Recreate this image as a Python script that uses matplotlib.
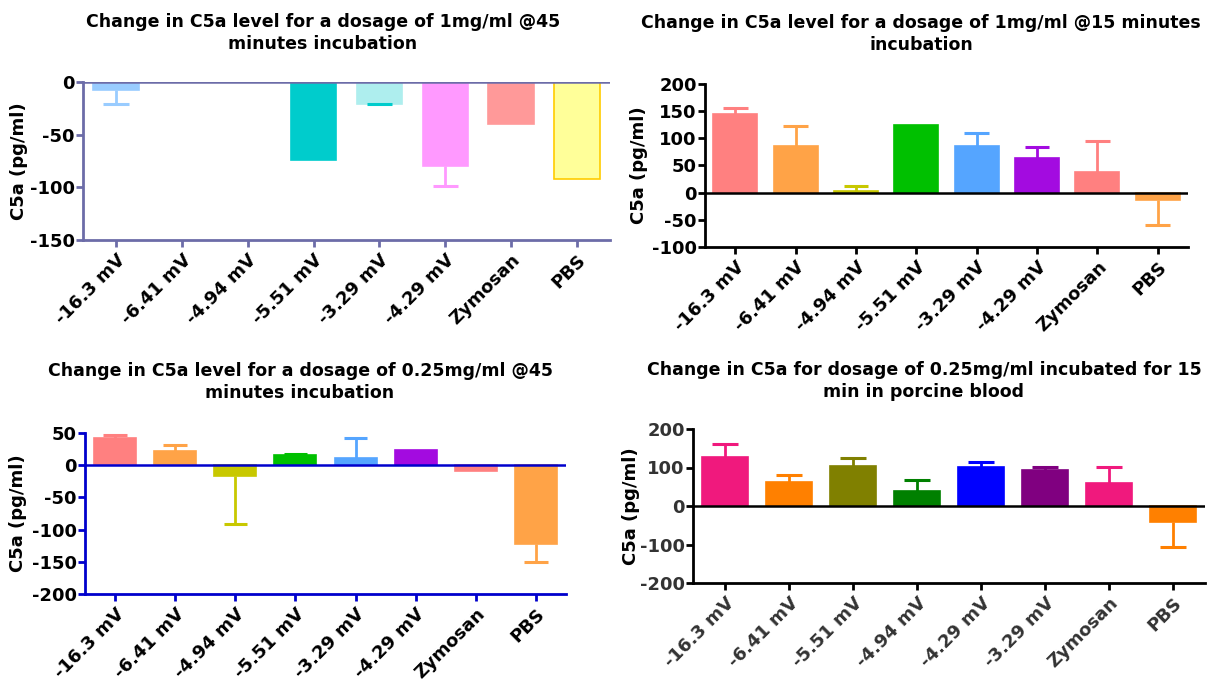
import numpy as np
import matplotlib.pyplot as plt

plt.rcParams['font.family'] = ['DejaVu Sans']
plt.rcParams['font.weight'] = 'bold'
plt.rcParams['axes.unicode_minus'] = False

nan = np.nan

# 1 mg/ml, 45 minutes
labels1 = ['-16.3 mV', '-6.41 mV', '-4.94 mV', '-5.51 mV', '-3.29 mV', '-4.29 mV', 'Zymosan', 'PBS']
means1 = [-7.9, nan, nan, -73.7, -20.6, -79.7, -39.9, -92.4]
errs1 = [12.7, 0, 0, 0, 0.6, 19.0, 0, 0]
colors1 = ['#99CCFF', '#99CCFF', '#99CCFF', '#00CCCC', '#AEEEEE', '#FF99FF', '#FF9999', '#FFFF99']
errcolors1 = ['#99CCFF', '#99CCFF', '#99CCFF', '#00CCCC', '#00CCCC', '#FF99FF', '#FF9999', '#FFCC00']

# 1 mg/ml, 15 minutes
labels2 = ['-16.3 mV', '-6.41 mV', '-4.94 mV', '-5.51 mV', '-3.29 mV', '-4.29 mV', 'Zymosan', 'PBS']
means2 = [145.2, 85.0, 3.7, 125.0, 86.8, 64.6, 37.5, -13.5]
errs2 = [10.5, 36.8, 8.6, 0, 22.7, 19.7, 57.3, 46.8]
colors2 = ['#FF8080', '#FFA347', '#C8C800', '#00C000', '#55A5FF', '#A30BE0', '#FF8080', '#FFA347']

# 0.25 mg/ml, 45 minutes
labels3 = ['-16.3 mV', '-6.41 mV', '-4.94 mV', '-5.51 mV', '-3.29 mV', '-4.29 mV', 'Zymosan', 'PBS']
means3 = [41.8, 22.7, -16.5, 16.0, 11.9, 23.2, -8.8, -122.0]
errs3 = [4.6, 8.2, 74.2, 2.0, 30.9, 0, 0, 28.0]
colors3 = ['#FF8080', '#FFA347', '#C8C800', '#00C000', '#55A5FF', '#A30BE0', '#FF8080', '#FFA347']

# 0.25 mg/ml, 15 minutes, porcine blood
labels4 = ['-16.3 mV', '-6.41 mV', '-5.51 mV', '-4.94 mV', '-4.29 mV', '-3.29 mV', 'Zymosan', 'PBS']
means4 = [127.3, 63.2, 103.9, 39.8, 100.4, 94.4, 60.6, -41.6]
errs4 = [34.7, 16.5, 19.9, 26.9, 13.0, 7.8, 41.6, 65.8]
colors4 = ['#F0197D', '#FF8000', '#808000', '#008000', '#0000FF', '#800080', '#F0197D', '#FF8000']

fig = plt.figure(figsize=(12.13, 6.83), dpi=100)


def draw_panel(rect, labels, means, errs, colors, ylim, yticks, axcolor, labelx,
               tickcolor='black', width=0.7, errcolors=None, edgecolors=None):
    ax = fig.add_axes(rect)
    x = np.arange(len(labels))
    if errcolors is None:
        errcolors = colors
    if edgecolors is None:
        edgecolors = colors
    ax.bar(x, means, width=width, color=colors, edgecolor=edgecolors,
           linewidth=1.2, zorder=2)
    # one-sided error bars pointing away from zero
    for xi, m, e, c in zip(x, means, errs, errcolors):
        if np.isnan(m) or e <= 0:
            continue
        end = m + np.sign(m) * e
        ax.plot([xi, xi], [m, end], color=c, lw=2, zorder=1, solid_capstyle='butt')
        ax.plot([xi - width * 0.28, xi + width * 0.28], [end, end], color=c, lw=2.2,
                zorder=3, solid_capstyle='butt')
    ax.axhline(0, color=axcolor, lw=1.8, zorder=4)
    ax.set_xlim(-0.5, len(labels) - 0.5)
    ax.set_ylim(*ylim)
    ax.set_yticks(yticks)
    ax.set_xticks(x)
    ax.set_xticklabels(labels, rotation=45, ha='right', rotation_mode='anchor')
    for s in ['top', 'right']:
        ax.spines[s].set_visible(False)
    for s in ['left', 'bottom']:
        ax.spines[s].set_color(axcolor)
        ax.spines[s].set_linewidth(2)
    ax.tick_params(axis='both', colors=axcolor, width=2, length=5,
                   labelcolor=tickcolor)
    ax.tick_params(axis='y', labelsize=13, pad=1)
    ax.tick_params(axis='x', labelsize=13, pad=3)
    ax.set_ylabel('C5a (pg/ml)', fontsize=13, fontweight='bold')
    ax.yaxis.set_label_coords(labelx, 0.5)
    for t in ax.get_xticklabels() + ax.get_yticklabels():
        t.set_fontweight('bold')
    return ax


draw_panel([83 / 1213, 1 - 240 / 683, 527 / 1213, 158 / 683], labels1, means1, errs1,
           colors1, (-150, 0), [0, -50, -100, -150], '#6C6CA8', -0.104,
           width=0.69, errcolors=errcolors1,
           edgecolors=colors1[:-1] + ['#FFCC00'])
draw_panel([705 / 1213, 1 - 247 / 683, 483 / 1213, 163 / 683], labels2, means2, errs2,
           colors2, (-100, 200), [-100, -50, 0, 50, 100, 150, 200], 'black', -0.118,
           width=0.73)
draw_panel([85 / 1213, 1 - 594 / 683, 481 / 1213, 161 / 683], labels3, means3, errs3,
           colors3, (-200, 50), [-200, -150, -100, -50, 0, 50], '#0000CC', -0.120,
           width=0.70)
draw_panel([693 / 1213, 1 - 583 / 683, 512 / 1213, 154 / 683], labels4, means4, errs4,
           colors4, (-200, 200), [-200, -100, 0, 100, 200], 'black', -0.104,
           tickcolor='#333333', width=0.72)

titles = [
    (323, 33, 'Change in C5a level for a dosage of 1mg/ml @45\nminutes incubation'),
    (921, 34, 'Change in C5a level for a dosage of 1mg/ml @15 minutes\nincubation'),
    (300, 382, 'Change in C5a level for a dosage of 0.25mg/ml @45\nminutes incubation'),
    (924, 381, 'Change in C5a for dosage of 0.25mg/ml incubated for 15\nmin in porcine blood'),
]
for tx, ty, txt in titles:
    fig.text(tx / 1213, 1 - ty / 683, txt, ha='center', va='center', fontsize=12.5,
             fontweight='bold', linespacing=1.3)

fig.savefig('out.png', dpi=100)
